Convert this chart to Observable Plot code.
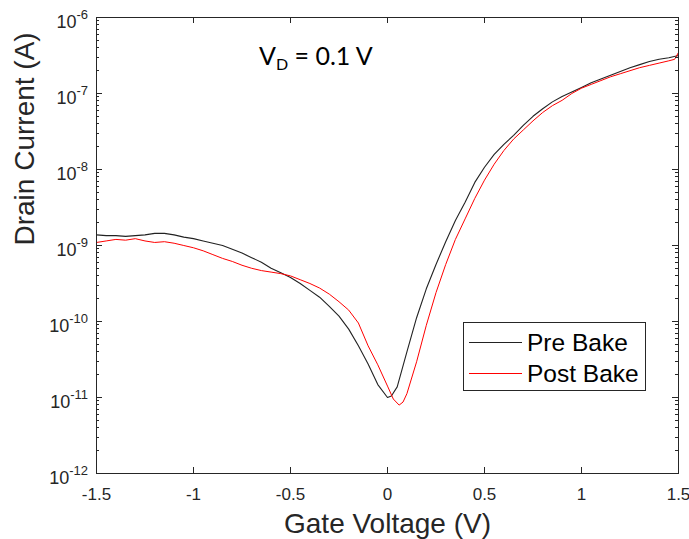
<!DOCTYPE html>
<html><head><meta charset="utf-8">
<script src="https://cdn.jsdelivr.net/npm/d3@7"></script>
<script src="https://cdn.jsdelivr.net/npm/@observablehq/plot@0.6"></script>
<style>body{margin:0;background:#fff}</style>
</head><body><div id="chart"></div>
<script>
// Gate voltage (V) and log10 of drain current (A)
const preV = [-1.5,-1.45,-1.4,-1.35,-1.3,-1.25,-1.2,-1.15,-1.1,-1.05,-1,-0.95,-0.9,-0.85,-0.8,-0.75,-0.7,-0.65,-0.6,-0.55,-0.5,-0.45,-0.4,-0.35,-0.3,-0.25,-0.2,-0.15,-0.1,-0.05,0,0.02,0.05,0.1,0.15,0.2,0.25,0.3,0.35,0.4,0.45,0.5,0.55,0.6,0.65,0.7,0.75,0.8,0.85,0.9,0.95,1,1.05,1.1,1.15,1.2,1.25,1.3,1.35,1.4,1.45,1.5];
const preExp = [-8.86,-8.87,-8.87,-8.88,-8.87,-8.86,-8.84,-8.84,-8.86,-8.89,-8.91,-8.94,-8.97,-9.00,-9.05,-9.10,-9.16,-9.22,-9.30,-9.36,-9.42,-9.50,-9.59,-9.68,-9.80,-9.93,-10.10,-10.32,-10.56,-10.83,-11.00,-10.98,-10.86,-10.40,-9.95,-9.57,-9.25,-8.95,-8.67,-8.43,-8.17,-7.97,-7.80,-7.67,-7.55,-7.42,-7.30,-7.20,-7.11,-7.04,-6.98,-6.92,-6.86,-6.81,-6.76,-6.71,-6.66,-6.62,-6.58,-6.55,-6.53,-6.50];
const postV = [-1.5,-1.45,-1.4,-1.35,-1.3,-1.25,-1.2,-1.15,-1.1,-1.05,-1,-0.95,-0.9,-0.85,-0.8,-0.75,-0.7,-0.65,-0.6,-0.55,-0.5,-0.45,-0.4,-0.35,-0.3,-0.25,-0.2,-0.15,-0.1,-0.05,0,0.03,0.06,0.08,0.1,0.15,0.2,0.25,0.3,0.35,0.4,0.45,0.5,0.55,0.6,0.65,0.7,0.75,0.8,0.85,0.9,0.95,1,1.05,1.1,1.15,1.2,1.25,1.3,1.35,1.4,1.45,1.48,1.5];
const postExp = [-8.96,-8.94,-8.92,-8.93,-8.91,-8.94,-8.96,-8.95,-8.97,-9.00,-9.03,-9.07,-9.12,-9.17,-9.21,-9.26,-9.30,-9.33,-9.35,-9.37,-9.40,-9.45,-9.50,-9.56,-9.64,-9.74,-9.85,-10.02,-10.32,-10.57,-10.85,-11.02,-11.10,-11.06,-10.95,-10.53,-10.05,-9.62,-9.25,-8.92,-8.65,-8.38,-8.14,-7.93,-7.75,-7.60,-7.48,-7.36,-7.25,-7.16,-7.09,-7.00,-6.93,-6.88,-6.83,-6.78,-6.74,-6.70,-6.66,-6.63,-6.60,-6.57,-6.55,-6.46];

const seriesNames = ["Pre Bake", "Post Bake"];
const seriesColors = ["#222222", "#ff0000"];
const xTicks = [-1.5,-1,-0.5,0,0.5,1,1.5];
const xTickLabels = ["-1.5","-1","-0.5","0","0.5","1","1.5"];
const yTicks = [1e-12,1e-11,1e-10,1e-9,1e-8,1e-7,1e-6];
const yTickExps = ["-12","-11","-10","-9","-8","-7","-6"];
const xLabel = "Gate Voltage (V)";
const yLabel = "Drain Current (A)";

const pre = preV.map((v,i)=>({v, i: Math.pow(10, preExp[i])}));
const post = postV.map((v,i)=>({v, i: Math.pow(10, postExp[i])}));
const minor = [];
for (let e=-12; e<-6; e++) for (let m=2; m<10; m++) minor.push(m*Math.pow(10,e));

const W=689, H=539, mL=96, mR=11, mT=17, mB=66;
const axisColor = "#262626";
const font = "'Liberation Sans', Arial, Helvetica, sans-serif";

const plot = Plot.plot({
  width: W, height: H, marginLeft: mL, marginRight: mR, marginTop: mT, marginBottom: mB,
  style: {background: "#fff", fontFamily: font, overflow: "visible"},
  x: {domain: [-1.5, 1.5], axis: null},
  y: {type: "log", domain: [1e-12, 1e-6], axis: null},
  marks: [
    Plot.line(pre, {x: "v", y: "i", stroke: seriesColors[0], strokeWidth: 1.1}),
    Plot.line(post, {x: "v", y: "i", stroke: seriesColors[1], strokeWidth: 1}),
    Plot.frame({stroke: axisColor, strokeWidth: 1}),
    Plot.text(xTicks, {x: d=>d, text: (d,i)=>xTickLabels[i], frameAnchor: "bottom", lineAnchor: "bottom", dy: 26, fontSize: 17, fill: axisColor}),
    Plot.text([xLabel], {frameAnchor: "bottom", lineAnchor: "bottom", dy: 59, fontSize: 28, fill: axisColor}),
    Plot.text([yLabel], {frameAnchor: "left", lineAnchor: "bottom", rotate: -90, dx: -63, fontSize: 28, fill: axisColor})
  ]
});
document.getElementById("chart").appendChild(plot);

const svg = d3.select(plot);
const xs = plot.scale("x");
const ys = plot.scale("y");
const px = v => xs.apply(v);
const py = v => ys.apply(v);
const x0 = px(-1.5), x1 = px(1.5), y0 = py(1e-12), y1 = py(1e-6);

// inward ticks (MATLAB style) on all four sides
const tg = svg.append("g");
function tick(xa, ya, xb, yb) {
  tg.append("path").attr("d", `M${xa},${ya}L${xb},${yb}`).attr("stroke", axisColor).attr("stroke-width", 1).attr("fill", "none");
}
xTicks.slice(1,-1).forEach(t=>{
  const x = Math.round(px(t)) + 0.5;
  tick(x, y0, x, y0-6);
  tick(x, y1, x, y1+6);
});
yTicks.slice(1,-1).forEach(t=>{
  const y = Math.round(py(t)) + 0.5;
  tick(x0, y, x0+6, y);
  tick(x1, y, x1-6, y);
});
minor.forEach(t=>{
  const y = Math.round(py(t)) + 0.5;
  tick(x0, y, x0+3, y);
  tick(x1, y, x1-3, y);
});

// y tick labels with superscript exponents
const g = svg.append("g").attr("font-family", font).attr("fill", axisColor);
yTicks.forEach((t,k)=>{
  const y = py(t);
  const tx = g.append("text").attr("x", 88).attr("y", y+11).attr("text-anchor","end").attr("font-size",18).text("10");
  tx.append("tspan").attr("dy",-9).attr("font-size",13).text(yTickExps[k]);
});

// annotation
const ann = svg.append("text").attr("x", 259).attr("y", 65).attr("text-anchor","start").attr("font-family","Lato, 'Open Sans', sans-serif").attr("font-size",25).attr("fill","#000").style("white-space","pre");
ann.append("tspan").text("V");
ann.append("tspan").attr("dy",5).attr("font-size",16).text("D");
ann.append("tspan").attr("dy",-5).text(" = 0.1 V");

// legend
const lg = svg.append("g");
lg.append("rect").attr("x",463.5).attr("y",322.5).attr("width",182).attr("height",68).attr("fill","#fff").attr("stroke",axisColor).attr("stroke-width",1);
seriesNames.forEach((name,k)=>{
  const y = 342.5 + k*31;
  lg.append("line").attr("x1",469).attr("x2",522).attr("y1",y).attr("y2",y).attr("stroke",seriesColors[k]).attr("stroke-width",1);
  lg.append("text").attr("x",527).attr("y",y+8.5).attr("text-anchor","start").attr("font-family",font).attr("font-size",24.5).attr("fill","#000").text(name);
});
</script>
</body></html>
